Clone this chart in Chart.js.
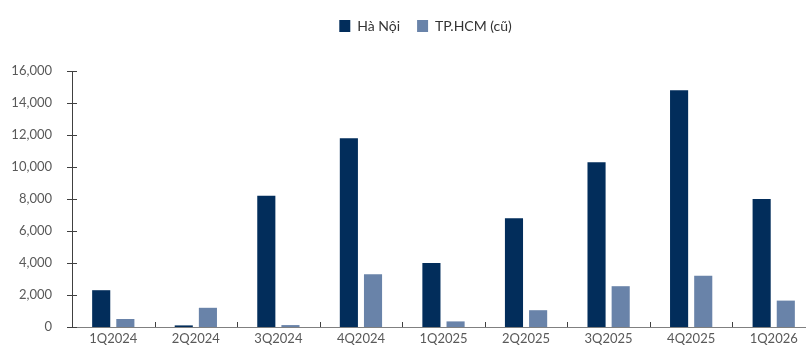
<!DOCTYPE html>
<html>
<head>
<meta charset="utf-8">
<script src="https://cdn.jsdelivr.net/npm/chart.js@4"></script>
<style>
  body { margin: 0; background: #fff; overflow: hidden; }
  #wrap { width: 815px; height: 354px; }
</style>
</head>
<body>
<div id="wrap"><canvas id="chart"></canvas></div>
<script>
const quarters = ["1Q2024", "2Q2024", "3Q2024", "4Q2024", "1Q2025", "2Q2025", "3Q2025", "4Q2025", "1Q2026"];
const haNoi = [2300, 100, 8200, 11800, 4000, 6800, 10300, 14800, 8000];
const hcm = [500, 1200, 120, 3300, 350, 1050, 2550, 3200, 1650];
const yTicks = [0, 2000, 4000, 6000, 8000, 10000, 12000, 14000, 16000];

// ticks crossing the y axis, and small upward ticks between categories on the x axis
const axisTicks = {
  id: "axisTicks",
  afterDraw(chart) {
    const ctx = chart.ctx;
    const x = chart.scales.x;
    const y = chart.scales.y;
    ctx.save();
    ctx.strokeStyle = "#404040";
    ctx.lineWidth = 1;
    ctx.beginPath();
    yTicks.forEach(v => {
      const py = Math.round(y.getPixelForValue(v)) + 0.5;
      ctx.moveTo(y.right - 5, py);
      ctx.lineTo(y.right + 5, py);
    });
    const half = (x.getPixelForValue(1) - x.getPixelForValue(0)) / 2;
    for (let i = 1; i < quarters.length; i++) {
      const px = Math.round(x.getPixelForValue(i) - half) + 0.5;
      ctx.moveTo(px, x.top);
      ctx.lineTo(px, x.top - 5);
    }
    ctx.stroke();
    ctx.restore();
  }
};

// more room under the legend, and move it a bit to the right
const legendGap = {
  id: "legendGap",
  beforeInit(chart) {
    const fit = chart.legend.fit;
    chart.legend.fit = function () {
      fit.bind(this)();
      this.height += 28;
    };
  },
  afterLayout(chart) {
    chart.legend.left += 18;
    chart.legend.right += 18;
  }
};

new Chart(document.getElementById("chart"), {
  type: "bar",
  data: {
    labels: quarters,
    datasets: [
      { label: "Hà Nội", data: haNoi, backgroundColor: "#022d5b" },
      { label: "TP.HCM (cũ)", data: hcm, backgroundColor: "#6983a9" }
    ]
  },
  options: {
    responsive: true,
    maintainAspectRatio: false,
    animation: false,
    layout: { padding: { left: 0, right: 0, top: 2, bottom: 0 } },
    datasets: { bar: { categoryPercentage: 0.585, barPercentage: 0.75 } },
    plugins: {
      legend: {
        position: "top",
        labels: {
          boxWidth: 11, boxHeight: 12, padding: 17,
          color: "#333", font: { family: "Lato", size: 14 }
        }
      },
      tooltip: { enabled: false }
    },
    scales: {
      x: {
        grid: { display: false, drawTicks: false, tickLength: 0 },
        border: { display: true, color: "#808080", width: 1 },
        ticks: { color: "#595959", font: { family: "Lato", size: 13 }, padding: 4 },
        afterFit: s => { s.height = 27; }
      },
      y: {
        min: 0, max: 16000,
        afterBuildTicks: s => { s.ticks = yTicks.map(v => ({ value: v })); },
        afterFit: s => { s.width = 72; },
        grid: { display: false },
        border: { display: true, color: "#404040", width: 1 },
        ticks: {
          color: "#595959", font: { family: "Lato", size: 13 }, padding: 12,
          callback: v => v.toLocaleString("en-US")
        }
      }
    }
  },
  plugins: [axisTicks, legendGap]
});
</script>
</body>
</html>
